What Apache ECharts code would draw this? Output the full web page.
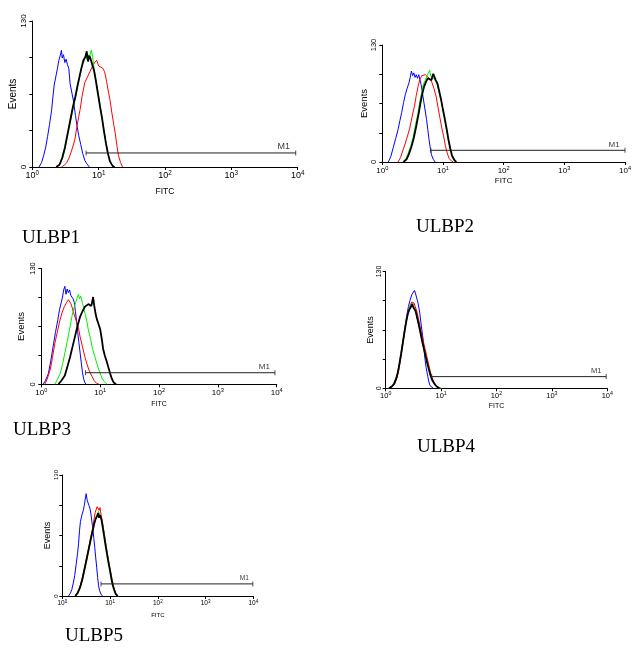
<!DOCTYPE html>
<html>
<head>
<meta charset="utf-8">
<script src="https://cdn.jsdelivr.net/npm/echarts@6/dist/echarts.min.js"></script>
<style>
html, body { margin: 0; padding: 0; background: #fff; }
#chart { width: 634px; height: 648px; }
</style>
</head>
<body>
<div id="chart"></div>
<script>
// x values are in decades of FITC (0 = 10^0 ... 4 = 10^4), y values are events
const NAMES = ['ULBP1', 'ULBP2', 'ULBP3', 'ULBP4', 'ULBP5'];
const Y_MAX = 130;
const M1_START = [0.81, 0.80, 0.75, 0.83, 0.81];
const M1_END = [3.97, 4.0, 3.97, 3.98, 3.99];
const M1_LEVEL = [12.5, 13, 13, 13, 13];

const ULBP1_BLUE = [[0.10,0],[0.14,4],[0.17,10],[0.20,17],[0.23,27],[0.26,38],[0.29,50],[0.31,62],[0.33,73],[0.36,82],[0.38,88],[0.40,95],[0.42,99],[0.44,104],[0.45,97],[0.47,100],[0.49,93],[0.51,96],[0.53,91],[0.55,88],[0.57,74],[0.60,65],[0.62,59],[0.65,46],[0.67,38],[0.70,28],[0.73,20],[0.76,12],[0.79,6],[0.82,3],[0.86,0]];
const ULBP1_RED = [[0.44,0],[0.49,2],[0.52,4],[0.56,9],[0.60,16],[0.64,24],[0.67,35],[0.70,45],[0.72,51],[0.75,63],[0.79,75],[0.83,80],[0.87,85],[0.90,89],[0.94,93],[0.97,95],[1.00,90],[1.03,91],[1.06,88],[1.09,85],[1.12,76],[1.15,66],[1.17,60],[1.20,48],[1.23,37],[1.25,30],[1.28,17],[1.30,10],[1.33,4],[1.36,0]];
const ULBP1_GREEN = [[0.37,0],[0.42,3],[0.46,8],[0.50,18],[0.54,30],[0.58,42],[0.62,54],[0.66,64],[0.69,73],[0.72,82],[0.75,90],[0.78,94],[0.80,99],[0.82,96],[0.84,100],[0.86,98],[0.89,104],[0.91,98],[0.93,88],[0.96,78],[0.99,66],[1.02,56],[1.05,44],[1.08,33],[1.11,22],[1.14,12],[1.17,6],[1.20,2],[1.23,0]];
const ULBP1_BLACK = [[0.36,0],[0.41,2],[0.45,8],[0.49,17],[0.53,29],[0.57,41],[0.61,53],[0.65,63],[0.68,72],[0.71,80],[0.74,88],[0.77,95],[0.80,98],[0.82,103],[0.84,94],[0.86,99],[0.88,96],[0.90,92],[0.93,86],[0.96,76],[0.99,65],[1.02,54],[1.05,44],[1.08,32],[1.11,21],[1.14,12],[1.17,5],[1.21,1],[1.24,0]];

const ULBP2_BLUE = [[0.10,0],[0.14,6],[0.18,16],[0.22,26],[0.26,36],[0.29,46],[0.32,55],[0.35,66],[0.38,75],[0.41,82],[0.44,88],[0.46,94],[0.48,101],[0.50,96],[0.52,99],[0.54,94],[0.56,97],[0.58,93],[0.60,97],[0.62,95],[0.64,86],[0.67,73],[0.70,60],[0.73,47],[0.75,36],[0.77,25],[0.79,16],[0.81,8],[0.84,3],[0.87,0]];
const ULBP2_RED = [[0.26,0],[0.30,5],[0.34,13],[0.38,21],[0.42,30],[0.45,37],[0.49,50],[0.53,62],[0.56,74],[0.59,84],[0.62,92],[0.65,96],[0.68,94],[0.71,97],[0.74,95],[0.77,93],[0.81,90],[0.85,82],[0.89,72],[0.92,60],[0.95,49],[0.98,38],[1.01,29],[1.04,18],[1.07,10],[1.10,4],[1.14,1],[1.17,0]];
const ULBP2_GREEN = [[0.34,0],[0.39,4],[0.43,10],[0.47,18],[0.51,28],[0.55,42],[0.59,55],[0.62,68],[0.65,78],[0.68,87],[0.71,91],[0.74,96],[0.76,99],[0.78,102],[0.80,95],[0.82,97],[0.85,93],[0.88,90],[0.91,85],[0.94,76],[0.97,68],[1.00,57],[1.03,47],[1.06,35],[1.09,24],[1.12,14],[1.15,7],[1.18,2],[1.21,0]];
const ULBP2_BLACK = [[0.35,0],[0.40,3],[0.44,9],[0.48,17],[0.52,27],[0.56,40],[0.60,54],[0.63,66],[0.66,76],[0.69,84],[0.72,89],[0.75,93],[0.78,95],[0.81,91],[0.84,98],[0.86,96],[0.88,91],[0.91,87],[0.94,78],[0.97,69],[1.00,58],[1.03,48],[1.06,37],[1.09,25],[1.12,15],[1.15,7],[1.19,2],[1.22,0]];

const ULBP3_BLUE = [[0.03,0],[0.07,4],[0.12,12],[0.16,26],[0.20,42],[0.24,58],[0.28,72],[0.31,84],[0.34,92],[0.36,98],[0.38,106],[0.40,110],[0.42,101],[0.44,107],[0.46,103],[0.48,106],[0.50,100],[0.52,102],[0.54,96],[0.56,92],[0.58,82],[0.60,70],[0.62,58],[0.64,46],[0.66,35],[0.68,24],[0.70,13],[0.72,6],[0.74,2],[0.76,0]];
const ULBP3_RED = [[0.06,0],[0.10,6],[0.15,16],[0.19,30],[0.23,46],[0.27,58],[0.31,70],[0.35,80],[0.39,87],[0.43,92],[0.46,95],[0.48,97],[0.50,91],[0.52,87],[0.55,80],[0.59,72],[0.63,64],[0.66,53],[0.70,42],[0.74,31],[0.77,24],[0.81,16],[0.86,9],[0.90,4],[0.94,1],[0.99,0]];
const ULBP3_GREEN = [[0.23,0],[0.27,5],[0.32,12],[0.36,22],[0.40,35],[0.44,48],[0.49,65],[0.52,76],[0.56,87],[0.59,93],[0.61,97],[0.63,101],[0.65,96],[0.67,99],[0.70,91],[0.73,83],[0.77,72],[0.80,61],[0.84,50],[0.87,40],[0.91,31],[0.95,22],[0.99,14],[1.03,7],[1.07,3],[1.12,0]];
const ULBP3_BLACK = [[0.29,0],[0.34,4],[0.40,10],[0.44,19],[0.49,31],[0.53,42],[0.57,53],[0.61,64],[0.66,76],[0.70,82],[0.74,87],[0.77,85],[0.80,90],[0.83,91],[0.85,88],[0.87,94],[0.88,98],[0.90,88],[0.92,80],[0.94,74],[0.97,68],[1.00,62],[1.03,50],[1.05,40],[1.08,32],[1.11,26],[1.14,19],[1.17,12],[1.20,6],[1.23,2],[1.27,0]];

const ULBP4_BLUE = [[0.08,0],[0.13,3],[0.17,6],[0.20,12],[0.23,20],[0.26,31],[0.29,43],[0.32,56],[0.35,69],[0.38,81],[0.41,91],[0.44,98],[0.47,104],[0.50,106],[0.52,109],[0.54,105],[0.56,104],[0.58,96],[0.61,86],[0.63,76],[0.65,66],[0.67,57],[0.69,44],[0.71,32],[0.73,23],[0.76,13],[0.78,7],[0.80,3],[0.83,1],[0.86,0]];
const ULBP4_RED = [[0.07,0],[0.12,2],[0.16,5],[0.20,11],[0.23,18],[0.26,29],[0.29,41],[0.32,53],[0.35,66],[0.38,77],[0.41,86],[0.44,92],[0.47,96],[0.49,98],[0.51,95],[0.53,93],[0.56,86],[0.59,78],[0.62,69],[0.65,60],[0.68,52],[0.71,44],[0.74,36],[0.77,28],[0.80,20],[0.83,13],[0.86,8],[0.90,4],[0.94,1],[0.98,0]];
const ULBP4_GREEN = [[0.05,0],[0.10,2],[0.14,4],[0.18,10],[0.21,16],[0.24,26],[0.27,37],[0.30,49],[0.33,61],[0.36,72],[0.39,81],[0.42,88],[0.45,93],[0.47,95],[0.49,92],[0.51,93],[0.53,89],[0.56,80],[0.59,72],[0.62,63],[0.65,54],[0.68,46],[0.71,39],[0.74,31],[0.77,24],[0.80,17],[0.83,11],[0.87,6],[0.91,3],[0.96,1],[1.01,0]];
const ULBP4_BLACK = [[0.06,0],[0.11,2],[0.15,5],[0.19,11],[0.22,18],[0.25,28],[0.28,39],[0.31,51],[0.34,63],[0.37,74],[0.40,83],[0.43,88],[0.46,91],[0.48,94],[0.50,90],[0.52,92],[0.54,86],[0.57,78],[0.60,70],[0.63,61],[0.66,52],[0.69,44],[0.72,36],[0.75,28],[0.78,21],[0.81,14],[0.84,9],[0.88,5],[0.92,2],[0.97,0]];

const ULBP5_BLUE = [[0.13,0],[0.17,3],[0.20,7],[0.23,14],[0.26,22],[0.29,34],[0.32,46],[0.34,56],[0.36,70],[0.38,80],[0.41,87],[0.44,92],[0.46,97],[0.48,104],[0.50,110],[0.52,103],[0.54,101],[0.56,97],[0.58,94],[0.60,88],[0.62,80],[0.64,72],[0.66,62],[0.68,52],[0.70,41],[0.72,31],[0.74,20],[0.76,11],[0.78,6],[0.81,2],[0.84,0]];
const ULBP5_RED = [[0.27,0],[0.32,4],[0.37,10],[0.42,20],[0.47,32],[0.52,44],[0.56,54],[0.60,64],[0.64,74],[0.67,84],[0.69,90],[0.71,88],[0.73,96],[0.75,98],[0.77,92],[0.79,95],[0.81,88],[0.84,80],[0.87,70],[0.90,60],[0.93,50],[0.96,41],[0.99,32],[1.02,24],[1.05,16],[1.08,9],[1.11,4],[1.14,1],[1.17,0]];
const ULBP5_GREEN = [[0.28,0],[0.33,4],[0.38,9],[0.43,19],[0.48,31],[0.53,43],[0.57,53],[0.61,63],[0.65,72],[0.68,80],[0.71,85],[0.74,88],[0.76,91],[0.78,87],[0.80,88],[0.83,81],[0.86,72],[0.89,62],[0.92,52],[0.95,43],[0.98,34],[1.01,26],[1.04,17],[1.07,10],[1.10,5],[1.13,2],[1.17,0]];
const ULBP5_BLACK = [[0.27,0],[0.32,3],[0.37,9],[0.42,18],[0.47,30],[0.52,42],[0.56,52],[0.60,62],[0.64,71],[0.67,78],[0.70,83],[0.73,86],[0.75,89],[0.77,84],[0.79,87],[0.82,82],[0.85,73],[0.88,63],[0.91,53],[0.94,44],[0.97,35],[1.00,27],[1.03,18],[1.06,11],[1.09,6],[1.12,2],[1.16,0]];

const HISTS = [
  [ULBP1_BLUE, ULBP1_RED, ULBP1_GREEN, ULBP1_BLACK],
  [ULBP2_BLUE, ULBP2_RED, ULBP2_GREEN, ULBP2_BLACK],
  [ULBP3_BLUE, ULBP3_RED, ULBP3_GREEN, ULBP3_BLACK],
  [ULBP4_BLUE, ULBP4_RED, ULBP4_GREEN, ULBP4_BLACK],
  [ULBP5_BLUE, ULBP5_RED, ULBP5_GREEN, ULBP5_BLACK]
];

const COLORS = ['#0000ff', '#ff0000', '#00ee00', '#000000'];
const WIDTHS = [1, 1, 1, 1.8];
const FONT = "'Liberation Sans', Arial, sans-serif";

// panel boxes, in pixels, plus text sizes
const BOX = [
  { left: 32.3, top: 21, width: 265.4, height: 146, tick: 9, ytick: 8, ymargin: 5, name: 10, fitc: 8.5, gapX: 20, gapY: 12 },
  { left: 382.3, top: 45, width: 244.4, height: 117, tick: 8, ytick: 7.5, ymargin: 4, name: 9.5, fitc: 8, gapX: 15, gapY: 12 },
  { left: 41.3, top: 268.5, width: 235.4, height: 115.8, tick: 8, ytick: 7.5, ymargin: 4, name: 9.5, fitc: 7, gapX: 16, gapY: 15 },
  { left: 385.7, top: 271.5, width: 221.6, height: 116.8, tick: 7.5, ytick: 7, ymargin: 3, name: 9, fitc: 7, gapX: 14, gapY: 10 },
  { left: 62.3, top: 475, width: 191, height: 121, tick: 6.5, ytick: 6, ymargin: 3, name: 9, fitc: 6, gapX: 16, gapY: 8 }
];
const TITLE_POS = [[22, 229], [416, 218], [13, 421], [417, 438], [65, 627]];

const grids = [], xAxes = [], yAxes = [], series = [], titles = [];

BOX.forEach((b, i) => {
  grids.push({ left: b.left, top: b.top, width: b.width, height: b.height });
  xAxes.push({
    gridIndex: i, type: 'value', min: 0, max: 4, interval: 1,
    name: 'FITC', nameLocation: 'middle', nameGap: b.gapX,
    nameTextStyle: { fontFamily: FONT, fontSize: b.fitc, color: '#000' },
    axisLine: { lineStyle: { color: '#000', width: 1 } },
    axisTick: { length: 3, lineStyle: { color: '#000' } },
    splitLine: { show: false },
    axisLabel: {
      margin: 3, color: '#000', fontFamily: FONT,
      formatter: v => '{b|10}{s|' + v + '}',
      rich: {
        b: { fontSize: b.tick, fontFamily: FONT, color: '#000' },
        s: { fontSize: b.tick * 0.7, fontFamily: FONT, color: '#000', padding: [0, 0, b.tick * 0.6, 0] }
      }
    }
  });
  yAxes.push({
    gridIndex: i, type: 'value', min: 0, max: Y_MAX, interval: Y_MAX / 4,
    name: 'Events', nameLocation: 'middle', nameGap: b.gapY, nameRotate: 90,
    nameTextStyle: { fontFamily: FONT, fontSize: b.name, color: '#000' },
    axisLine: { show: true, lineStyle: { color: '#000', width: 1 } },
    axisTick: { show: true, length: 3, lineStyle: { color: '#000' } },
    splitLine: { show: false },
    axisLabel: {
      rotate: 90, margin: b.ymargin, fontFamily: FONT, fontSize: b.ytick, color: '#000',
      formatter: v => (v === 0 || v === Y_MAX) ? String(v) : ''
    }
  });
  HISTS[i].forEach((d, k) => {
    series.push({
      type: 'line', xAxisIndex: i, yAxisIndex: i, data: d, showSymbol: false, silent: true,
      lineStyle: { color: COLORS[k], width: WIDTHS[k] }, z: 2 + k, animation: false
    });
  });
  // M1 gate marker
  series.push({
    type: 'line', xAxisIndex: i, yAxisIndex: i, showSymbol: false, silent: true, animation: false,
    data: [[M1_START[i], M1_LEVEL[i]], [M1_END[i], M1_LEVEL[i]]],
    lineStyle: { color: '#222', width: 1 }, z: 10
  });
  series.push({
    type: 'scatter', xAxisIndex: i, yAxisIndex: i, silent: true, animation: false,
    symbol: 'rect', symbolSize: [1, 5], itemStyle: { color: '#222' },
    data: [[M1_START[i], M1_LEVEL[i]], [M1_END[i], M1_LEVEL[i]]], z: 10
  });
  series.push({
    type: 'scatter', xAxisIndex: i, yAxisIndex: i, silent: true, animation: false,
    symbolSize: 0, data: [[M1_END[i] - 0.18, M1_LEVEL[i]]],
    label: { show: true, position: 'top', distance: 2, formatter: 'M1', fontFamily: FONT, fontSize: b.tick, color: '#000' }
  });
  titles.push({
    text: NAMES[i], left: TITLE_POS[i][0], top: TITLE_POS[i][1], padding: 0,
    textStyle: { fontFamily: "'Liberation Serif', 'Times New Roman', serif", fontSize: 19, fontWeight: 'normal', color: '#000' }
  });
});

const chart = echarts.init(document.getElementById('chart'));
chart.setOption({
  animation: false,
  backgroundColor: '#fff',
  title: titles,
  grid: grids,
  xAxis: xAxes,
  yAxis: yAxes,
  series: series
});
</script>
</body>
</html>
